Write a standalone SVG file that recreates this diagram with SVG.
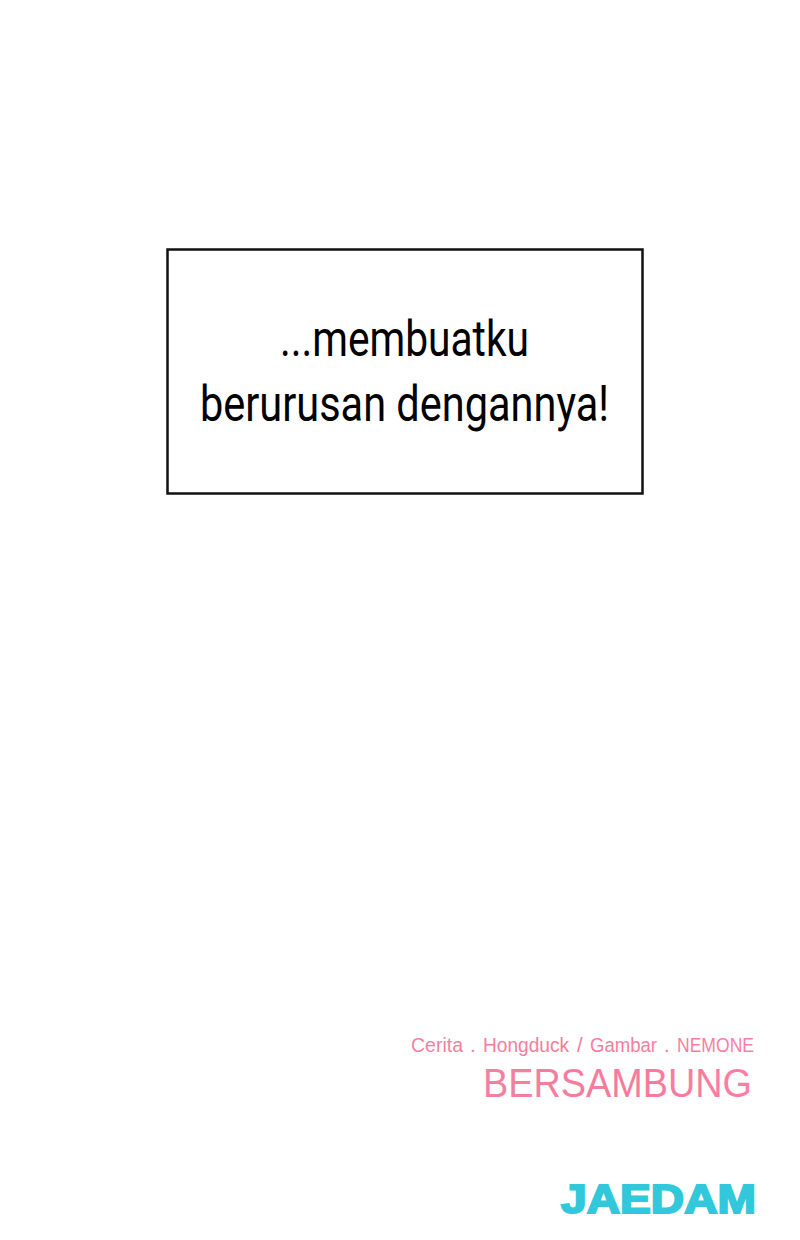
<svg xmlns="http://www.w3.org/2000/svg" width="800" height="1240" viewBox="0 0 800 1240">
<defs>
<linearGradient id="pink" x1="0" y1="0" x2="1" y2="0"><stop offset="0" stop-color="#f2809f"/><stop offset="0.5" stop-color="#f77a9c"/><stop offset="1" stop-color="#fb7ea3"/></linearGradient>
</defs>
<style>
.cap{font-family:Roboto,"Liberation Sans",sans-serif;font-size:50px;fill:#000}
.pk{font-family:"Liberation Sans",Arial,sans-serif;fill:url(#pink)}
</style>
<rect width="800" height="1240" fill="#fff"/>
<g id="caption">
<rect x="167.500" y="249.500" width="475" height="244" fill="#fff" stroke="#111" stroke-width="2.500"/>
<text class="cap" x="280" y="356" textLength="249" lengthAdjust="spacingAndGlyphs">...membuatku</text>
<text class="cap" x="200" y="421" textLength="409" lengthAdjust="spacingAndGlyphs">berurusan dengannya!</text>
</g>
<g id="credits">
<text class="pk" y="1052" font-size="20.500"><tspan x="411" textLength="52" lengthAdjust="spacingAndGlyphs">Cerita</tspan> <tspan x="470">.</tspan> <tspan x="483" textLength="86" lengthAdjust="spacingAndGlyphs">Hongduck</tspan> <tspan x="577">/</tspan> <tspan x="590" textLength="67" lengthAdjust="spacingAndGlyphs">Gambar</tspan> <tspan x="664">.</tspan> <tspan x="677" textLength="77" lengthAdjust="spacingAndGlyphs">NEMONE</tspan></text>
<text class="pk" x="483" y="1097" font-size="40" textLength="269" lengthAdjust="spacingAndGlyphs">BERSAMBUNG</text>
</g>
<g id="logo">
<text x="561" y="1213" font-family="'Liberation Sans',Arial,sans-serif" font-weight="700" font-size="40" fill="#32c8dc" stroke="#32c8dc" stroke-width="2" textLength="195" lengthAdjust="spacingAndGlyphs">JAEDAM</text>
</g>
</svg>
